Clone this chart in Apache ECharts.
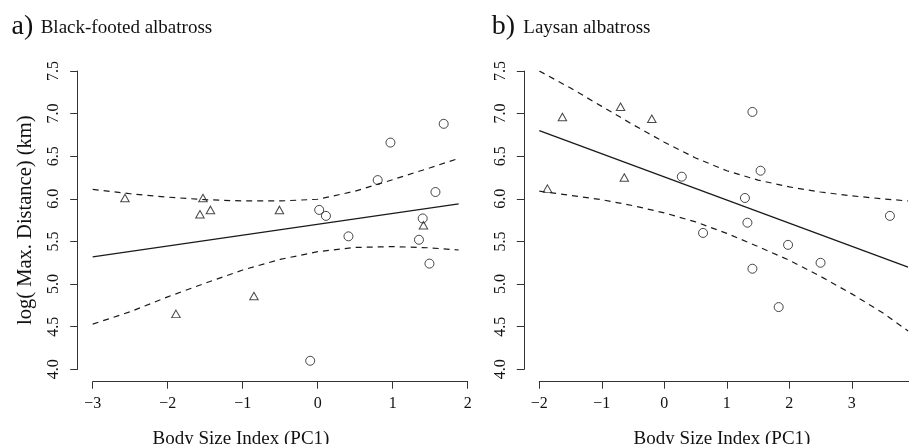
<!DOCTYPE html>
<html>
<head>
<meta charset="utf-8">
<script src="https://cdn.jsdelivr.net/npm/echarts@6/dist/echarts.min.js"></script>
<style>html,body{margin:0;padding:0;background:#fff}#c{width:909px;height:444px}</style>
</head>
<body>
<div id="c"></div>
<script>
// ---------- data ----------
// Panel a) Black-footed albatross
const circlesLeftX = [-0.10, 0.02, 0.11, 0.41, 0.80, 0.97, 1.35, 1.40, 1.49, 1.57, 1.68];
const circlesLeftY = [4.10, 5.87, 5.80, 5.56, 6.22, 6.66, 5.52, 5.77, 5.24, 6.08, 6.88];
const trianglesLeftX = [-2.57, -1.89, -1.57, -1.53, -1.43, -0.85, -0.51, 1.41];
const trianglesLeftY = [6.01, 4.65, 5.82, 6.01, 5.87, 4.86, 5.87, 5.69];
const fitLeftX = [-3.0, 1.88];
const fitLeftY = [5.32, 5.94];
const bandLeftX = [-3.0, -2.5, -2.0, -1.5, -1.0, -0.5, 0.0, 0.5, 1.0, 1.5, 1.88];
const upperLeft = [6.11, 6.06, 6.02, 5.99, 5.975, 5.975, 5.995, 6.09, 6.225, 6.365, 6.475];
const lowerLeft = [4.53, 4.675, 4.85, 5.01, 5.165, 5.29, 5.38, 5.43, 5.44, 5.425, 5.40];

// Panel b) Laysan albatross
const circlesRightX = [0.28, 0.62, 1.29, 1.33, 1.41, 1.41, 1.54, 1.83, 1.98, 2.50, 3.61];
const circlesRightY = [6.26, 5.60, 6.01, 5.72, 7.02, 5.18, 6.33, 4.73, 5.46, 5.25, 5.80];
const trianglesRightX = [-1.87, -1.63, -0.70, -0.64, -0.20];
const trianglesRightY = [6.12, 6.96, 7.08, 6.25, 6.94];
const fitRightX = [-2.0, 3.9];
const fitRightY = [6.80, 5.20];
const bandRightX = [-2.0, -1.5, -1.0, -0.5, 0.0, 0.5, 1.0, 1.5, 2.0, 2.5, 3.0, 3.5, 3.9];
const upperRight = [7.50, 7.30, 7.085, 6.87, 6.665, 6.48, 6.33, 6.22, 6.14, 6.08, 6.035, 6.0, 5.975];
const lowerRight = [6.09, 6.04, 5.99, 5.92, 5.835, 5.73, 5.595, 5.44, 5.28, 5.09, 4.885, 4.66, 4.45];

// axis ranges / ticks
const xLeftRange = [-3, 2];
const xRightRange = [-2, 4];
const yRange = [4.0, 7.5];
const yTickStep = 0.5;
const xTickStep = 1;

const panelTitles = [['a)', 'Black-footed albatross'], ['b)', 'Laysan albatross']];
const xTitle = 'Body Size Index (PC1)';
const yTitle = 'log( Max. Distance) (km)';

// ---------- chart ----------
const FONT = '"Liberation Serif", "Times New Roman", serif';
const INK = '#1a1a1a';
const zip = (xs, ys) => xs.map((x, i) => [x, ys[i]]);

function xAxisCfg(gi, range) {
  return {
    type: 'value', gridIndex: gi, min: range[0], max: range[1], interval: xTickStep,
    offset: 12.4,
    axisLine: { show: true, onZero: false, lineStyle: { color: '#333', width: 1 } },
    axisTick: { show: true, length: 7, lineStyle: { color: '#333', width: 1 } },
    splitLine: { show: false },
    axisLabel: {
      margin: 14, color: '#111', fontFamily: FONT, fontSize: 16,
      formatter: v => String(v).replace('-', '\u2212')
    }
  };
}
function yAxisCfg(gi, withName) {
  const c = {
    type: 'value', gridIndex: gi, min: yRange[0], max: yRange[1], interval: yTickStep,
    offset: 15,
    axisLine: { show: true, onZero: false, lineStyle: { color: '#333', width: 1 } },
    axisTick: { show: true, length: 7.5, lineStyle: { color: '#333', width: 1 } },
    splitLine: { show: false },
    axisLabel: {
      margin: 16, rotate: 90, color: '#111', fontFamily: FONT, fontSize: 16,
      formatter: v => v.toFixed(1)
    }
  };
  if (withName) {
    c.name = yTitle;
    c.nameLocation = 'middle';
    c.nameGap = 42;
    c.nameTextStyle = { fontFamily: FONT, fontSize: 20.5, color: '#111' };
  }
  return c;
}
function panelSeries(gi, cx, cy, tx, ty, fx, fy, bx, up, lo) {
  const lineBase = { type: 'line', xAxisIndex: gi, yAxisIndex: gi, symbol: 'none', silent: true, z: 2 };
  return [
    Object.assign({}, lineBase, { data: zip(fx, fy), lineStyle: { color: INK, width: 1.3 } }),
    Object.assign({}, lineBase, { data: zip(bx, up), smooth: false, lineStyle: { color: INK, width: 1.2, type: [6, 5] } }),
    Object.assign({}, lineBase, { data: zip(bx, lo), smooth: false, lineStyle: { color: INK, width: 1.2, type: [6, 5] } }),
    { type: 'scatter', xAxisIndex: gi, yAxisIndex: gi, data: zip(cx, cy), symbol: 'circle', symbolSize: 9, z: 3,
      itemStyle: { color: 'rgba(0,0,0,0)', borderColor: INK, borderWidth: 1 } },
    { type: 'scatter', xAxisIndex: gi, yAxisIndex: gi, data: zip(tx, ty), symbol: 'triangle', symbolSize: [8.5, 7.5], z: 3,
      itemStyle: { color: 'rgba(0,0,0,0)', borderColor: INK, borderWidth: 1 } }
  ];
}

const chart = echarts.init(document.getElementById('c'), null, { renderer: 'canvas' });
chart.setOption({
  animation: false,
  backgroundColor: '#fff',
  grid: [
    { left: 92.7, top: 71, width: 375, height: 298.3, containLabel: false, outerBoundsMode: 'none' },
    { left: 539.3, top: 71, width: 375, height: 298.3, containLabel: false, outerBoundsMode: 'none' }
  ],
  xAxis: [xAxisCfg(0, xLeftRange), xAxisCfg(1, xRightRange)],
  yAxis: [yAxisCfg(0, true), yAxisCfg(1, false)],
  series: [].concat(
    panelSeries(0, circlesLeftX, circlesLeftY, trianglesLeftX, trianglesLeftY, fitLeftX, fitLeftY, bandLeftX, upperLeft, lowerLeft),
    panelSeries(1, circlesRightX, circlesRightY, trianglesRightX, trianglesRightY, fitRightX, fitRightY, bandRightX, upperRight, lowerRight)
  ),
  graphic: [
    { type: 'text', x: 11.5, y: 26.5, style: { text: panelTitles[0][0], font: '28px ' + FONT, fill: '#111', textAlign: 'left', textVerticalAlign: 'middle' } },
    { type: 'text', x: 40.7, y: 28.5, style: { text: panelTitles[0][1], font: '19px ' + FONT, fill: '#111', textAlign: 'left', textVerticalAlign: 'middle' } },
    { type: 'text', x: 491.7, y: 26.5, style: { text: panelTitles[1][0], font: '28px ' + FONT, fill: '#111', textAlign: 'left', textVerticalAlign: 'middle' } },
    { type: 'text', x: 523.3, y: 28.5, style: { text: panelTitles[1][1], font: '19px ' + FONT, fill: '#111', textAlign: 'left', textVerticalAlign: 'middle' } },
    { type: 'text', x: 241, y: 439, style: { text: xTitle, font: '19px ' + FONT, fill: '#111', textAlign: 'center', textVerticalAlign: 'middle' } },
    { type: 'text', x: 722, y: 439, style: { text: xTitle, font: '19px ' + FONT, fill: '#111', textAlign: 'center', textVerticalAlign: 'middle' } }
  ]
});
</script>
</body>
</html>
